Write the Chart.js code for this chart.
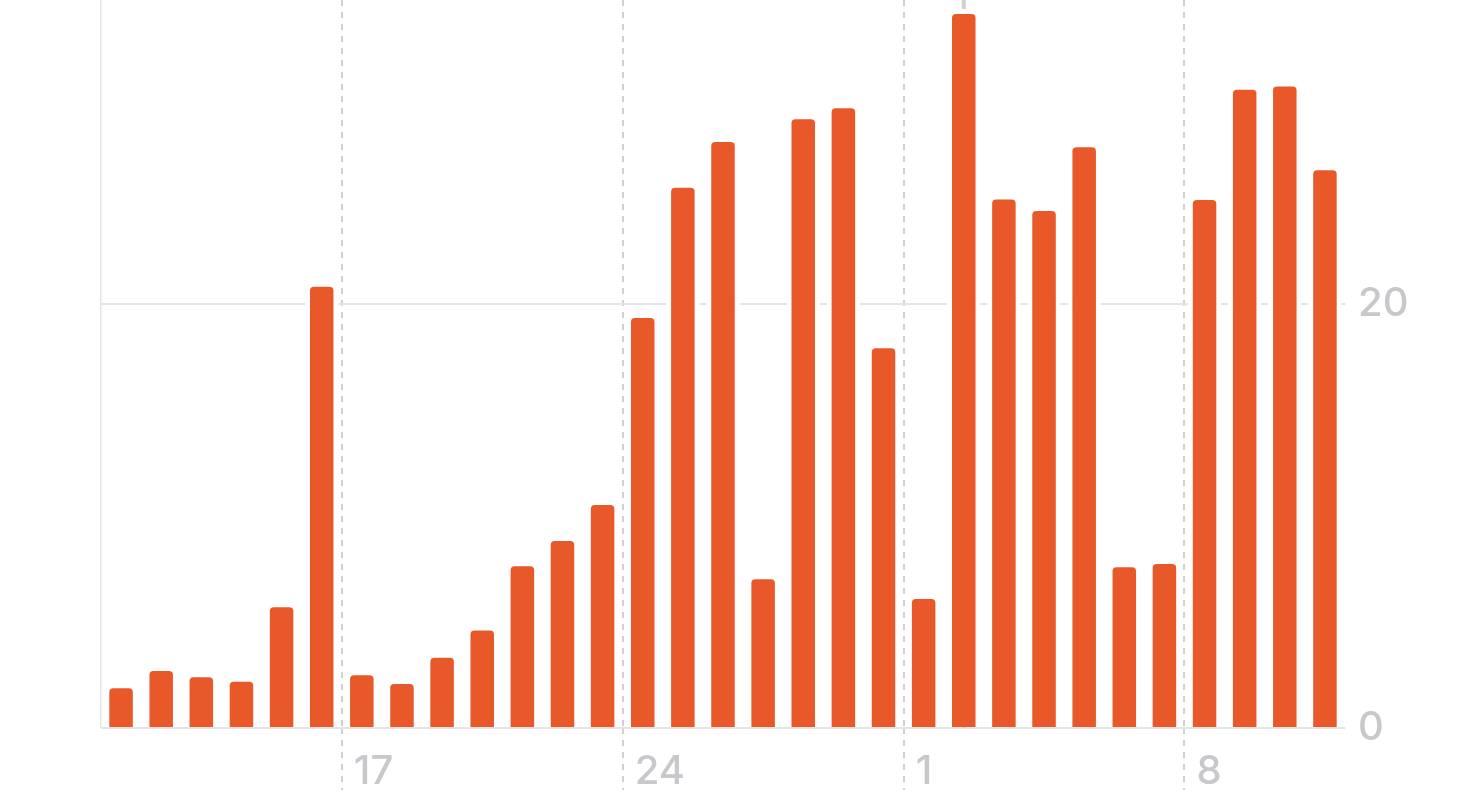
<!DOCTYPE html>
<html>
<head>
<meta charset="utf-8">
<title>Daily bars</title>
<script src="https://cdn.jsdelivr.net/npm/chart.js"></script>
<style>
    html, body { margin: 0; padding: 0; background: #ffffff; overflow: hidden; }
    #wrap { position: relative; width: 1474px; height: 808px; }
</style>
</head>
<body>
<div id="wrap"><canvas id="dailyChart"></canvas></div>
<script>
// Jours affichés (du 11 au 11 du mois suivant)
const days = ['11', '12', '13', '14', '15', '16', '17', '18', '19', '20',
              '21', '22', '23', '24', '25', '26', '27', '28', '29', '30',
              '1', '2', '3', '4', '5', '6', '7', '8', '9', '10', '11'];

// Valeurs
const values = [2.11, 2.92, 2.63, 2.42, 5.93, 21.05, 2.72, 2.31, 3.55, 4.84,
                7.86, 9.06, 10.75, 19.58, 25.72, 27.88, 7.25, 28.95, 29.47, 18.15,
                6.32, 33.92, 25.16, 24.62, 27.63, 7.82, 7.97, 25.14, 30.34, 30.5, 26.54];

// Étiquettes de l'axe
const weekDays = ['17', '24', '1', '8'];
const yTicks = [0, 20];
const yMax = 34.34;
const selectedIndex = 21;

const BAR_COLOR = '#E95829';
const LABEL_COLOR = '#c7c7cc';
const GRID_COLOR = '#e3e3e8';
const DASH_COLOR = '#cfcfd4';
const labelFont = { family: 'Inter, "Open Sans", sans-serif', size: 40, weight: '500' };

function isWeekLine(index) {
    return index !== undefined && index < days.length && index > 0 && weekDays.includes(days[index]);
}

// Ligne de sélection derrière la barre choisie
const selectionLine = {
    id: 'selectionLine',
    beforeDatasetsDraw(chart) {
        const { ctx, chartArea, scales } = chart;
        const x = scales.x.getPixelForValue(selectedIndex);
        ctx.save();
        ctx.strokeStyle = DASH_COLOR;
        ctx.lineWidth = 4;
        ctx.beginPath();
        ctx.moveTo(x, chartArea.top);
        ctx.lineTo(x, chartArea.bottom);
        ctx.stroke();
        ctx.restore();
    }
};

new Chart(document.getElementById('dailyChart'), {
    type: 'bar',
    data: {
        labels: days,
        datasets: [{
            data: values,
            backgroundColor: BAR_COLOR,
            borderColor: '#ffffff',
            borderWidth: 5,
            borderSkipped: 'start',
            borderRadius: 9,
            barPercentage: 0.835,
            categoryPercentage: 1
        }]
    },
    options: {
        responsive: true,
        maintainAspectRatio: false,
        animation: false,
        layout: { padding: { left: 101, right: 0, top: 0, bottom: 0 } },
        plugins: {
            legend: { display: false },
            tooltip: { enabled: false }
        },
        scales: {
            x: {
                offset: true,
                grid: {
                    offset: true,
                    color: ctx => ctx.index === 0 ? GRID_COLOR : (isWeekLine(ctx.index) ? DASH_COLOR : 'rgba(0,0,0,0)'),
                    lineWidth: ctx => ctx.index === 0 ? 1.5 : 2,
                    drawTicks: true,
                    tickLength: 62,
                    tickWidth: 2,
                    tickColor: ctx => isWeekLine(ctx.index) ? DASH_COLOR : 'rgba(0,0,0,0)',
                    tickBorderDash: [6, 6]
                },
                border: {
                    display: false,
                    dash: ctx => isWeekLine(ctx.index) ? [6, 6] : []
                },
                ticks: {
                    autoSkip: false,
                    maxRotation: 0,
                    align: 'start',
                    labelOffset: -8,
                    padding: -42,
                    color: LABEL_COLOR,
                    font: labelFont,
                    callback: (value, index) => weekDays.includes(days[index]) && index > 0 && index < days.length - 1 ? days[index] : ''
                },
                afterFit: s => { s.height = 80; s.paddingLeft = 0; s.paddingRight = 0; }
            },
            y: {
                position: 'right',
                min: 0,
                max: yMax,
                afterBuildTicks: s => { s.ticks = yTicks.map(v => ({ value: v })); },
                grid: { color: GRID_COLOR, lineWidth: 2, drawTicks: false },
                border: { display: false },
                ticks: {
                    padding: 13,
                    color: LABEL_COLOR,
                    font: labelFont
                },
                afterFit: s => { s.width = 129; s.paddingTop = 0; s.paddingBottom = 0; }
            }
        }
    },
    plugins: [selectionLine]
});
</script>
</body>
</html>
